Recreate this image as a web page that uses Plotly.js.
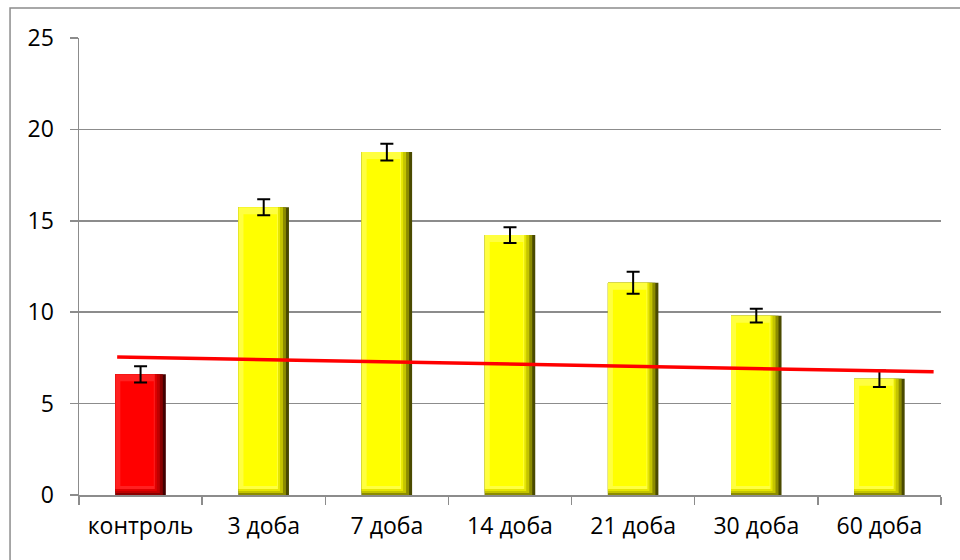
<!DOCTYPE html>
<html>
<head>
<meta charset="utf-8">
<script src="https://cdn.plot.ly/plotly-3.0.1.min.js"></script>
<style>html,body{margin:0;padding:0;background:#fff;}#chart{width:960px;height:560px;}</style>
</head>
<body>
<div id="chart"></div>
<script>
// ---- data ----
const categories = ["контроль", "3 доба", "7 доба", "14 доба", "21 доба", "30 доба", "60 доба"];
const values = [6.6, 15.74, 18.76, 14.22, 11.61, 9.81, 6.36];
const errors = [0.45, 0.44, 0.46, 0.43, 0.6, 0.38, 0.45];
const isControl = [true, false, false, false, false, false, false];
const trendX = [-0.19, 6.44];
const trendY = [7.55, 6.74];

// ---- styling helpers ----
const W = 0.41;            // bar width (category units)
const px = 1 / 123.1;      // one pixel in category units
const py = 1 / 18.28;      // one pixel in value units

function cols(yel, red) { return isControl.map(c => c ? red : yel); }

function layer(color, wPx, offPx, basePx, topPx) {
  return {
    type: "bar",
    x: categories,
    y: values.map(v => v - basePx * py - topPx * py),
    base: values.map(() => basePx * py),
    width: W - wPx * px,
    offset: -W / 2 + offPx * px,
    marker: { color: cols(color[0], color[1]), line: { width: 0 } },
    hoverinfo: "skip",
    showlegend: false
  };
}

const traces = [
  layer(["#4a4a00", "#420000"], 0, 0, 0, 0),
  layer(["#8c8c00", "#8a0000"], 3, 0, 0, 0),
  layer(["#c4c400", "#c00000"], 6, 0, 2, 0),
  layer(["#e6e600", "#e00000"], 9, 0, 4, 0),
  layer(["#ffff40", "#ff2020"], 11, 0, 6, 0),
  layer(["#ffff00", "#ff0000"], 17, 5, 9, 7),
  {
    type: "bar",
    x: categories,
    y: values,
    width: W,
    marker: { color: "rgba(0,0,0,0)" },
    error_y: { type: "data", array: errors, visible: true, color: "#000000", thickness: 2, width: 6.5 },
    hoverinfo: "skip",
    showlegend: false
  },
  {
    type: "scatter",
    mode: "lines",
    x: trendX,
    y: trendY,
    xaxis: "x2",
    line: { color: "#ff0000", width: 3.5 },
    hoverinfo: "skip",
    showlegend: false
  }
];

const font = { family: "'Open Sans', sans-serif", size: 23, color: "#000000" };

const layout = {
  width: 960,
  height: 560,
  margin: { l: 79, r: 19, t: 38, b: 65 },
  paper_bgcolor: "#ffffff",
  plot_bgcolor: "#ffffff",
  barmode: "overlay",
  font: font,
  showlegend: false,
  xaxis: {
    type: "category",
    tickson: "boundaries",
    ticks: "outside",
    ticklen: 8,
    tickwidth: 1.5,
    tickcolor: "#8c8c8c",
    showline: true,
    linecolor: "#8c8c8c",
    linewidth: 1.5,
    showgrid: false,
    ticklabelstandoff: 10,
    tickfont: font,
    range: [-0.5, 6.5]
  },
  xaxis2: {
    overlaying: "x",
    range: [-0.5, 6.5],
    visible: false
  },
  yaxis: {
    range: [0, 25],
    dtick: 5,
    tick0: 0,
    ticks: "outside",
    ticklen: 8,
    tickwidth: 1.5,
    tickcolor: "#8c8c8c",
    showline: true,
    linecolor: "#8c8c8c",
    linewidth: 1.5,
    showgrid: true,
    gridcolor: "#8c8c8c",
    gridwidth: 1.5,
    zeroline: false,
    ticklabelstandoff: 11,
    tickfont: font
  },
  shapes: [
    {
      type: "rect", xref: "paper", yref: "paper",
      x0: -0.08, x1: 1.03, y0: -0.16, y1: 1.0656,
      line: { color: "#8c8c8c", width: 1.5 },
      fillcolor: "rgba(0,0,0,0)",
      layer: "above"
    }
  ]
};

Plotly.newPlot("chart", traces, layout, { staticPlot: true, displayModeBar: false });
</script>
</body>
</html>
